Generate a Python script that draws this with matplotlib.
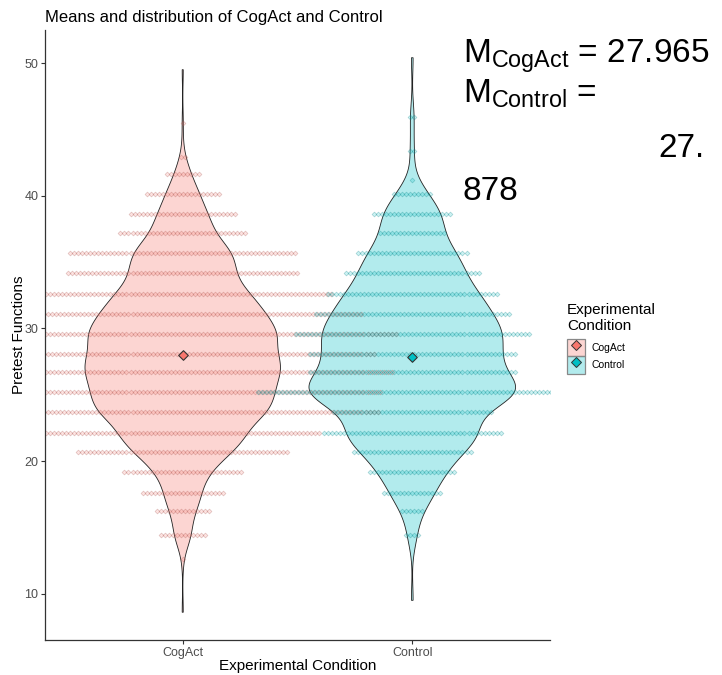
import numpy as np
import matplotlib
matplotlib.use("Agg")
import matplotlib.pyplot as plt
from matplotlib.patches import Patch
from matplotlib.lines import Line2D
from matplotlib.legend_handler import HandlerTuple

plt.rcParams["font.family"] = ["Liberation Sans", "DejaVu Sans"]
plt.rcParams["mathtext.fontset"] = "custom"
plt.rcParams["mathtext.rm"] = "Liberation Sans"
plt.rcParams["mathtext.it"] = "Liberation Sans:italic"

groups = ["CogAct", "Control"]
group_means = [27.965, 27.878]
colors = ["#F8766D", "#00BFC4"]

# dot rows: score level and how many participants are stacked on it
cogact_levels = [45.5, 42.9, 41.6, 40.1, 38.6, 37.2, 35.7, 34.2, 32.6, 31.1, 29.6,
                 28.1, 26.7, 25.2, 23.7, 22.1, 20.7, 19.2, 17.6, 16.2, 14.4, 12.6]
cogact_counts = [1, 2, 9, 19, 27, 32, 57, 58, 75, 90, 107,
                 96, 105, 99, 98, 69, 53, 30, 21, 14, 12, 1]
control_levels = [45.9, 43.4, 41.2, 40.1, 38.6, 37.2, 35.7, 34.2, 32.6, 31.1, 29.6,
                  28.1, 26.7, 25.2, 23.7, 22.1, 20.7, 19.2, 17.6, 16.2, 14.4]
control_counts = [2, 2, 1, 10, 20, 17, 28, 34, 43, 49, 59,
                  52, 52, 78, 40, 45, 30, 22, 15, 6, 4]
# lowest and highest single scores per group
cogact_extremes = [8.6, 49.5]
control_extremes = [9.5, 50.4]

levels = [cogact_levels, control_levels]
counts = [cogact_counts, control_counts]
extremes = [cogact_extremes, control_extremes]


def kde_profile(samples, adjust=0.8, n_grid=512):
    """Gaussian KDE (bw.nrd0 * adjust) evaluated over the sample range."""
    samples = np.asarray(samples, dtype=float)
    sd = samples.std(ddof=1)
    q75, q25 = np.percentile(samples, [75, 25])
    bw = adjust * 0.9 * min(sd, (q75 - q25) / 1.34) * len(samples) ** -0.2
    grid = np.linspace(samples.min(), samples.max(), n_grid)
    z = (grid[:, None] - samples[None, :]) / bw
    dens = np.exp(-0.5 * z ** 2).sum(axis=1) / (len(samples) * bw * np.sqrt(2 * np.pi))
    return grid, dens


def darker(color, f=0.7, alpha=1.0):
    r, g, b = matplotlib.colors.to_rgb(color)
    return (r * f, g * f, b * f, alpha)


fig = plt.figure(figsize=(7.22, 6.75), dpi=100)
ax = fig.add_axes([45 / 722, 35 / 675, 505 / 722, 610 / 675])

samples = [np.concatenate([np.repeat(lv, ct), ex]) for lv, ct, ex in zip(levels, counts, extremes)]
profiles = [kde_profile(s) for s in samples]
max_dens = max(d.max() for _, d in profiles)

# violins, scaled by area so the widest one spans 0.9
for i, ((grid, dens), color) in enumerate(zip(profiles, colors)):
    pos = i + 1
    half = 0.45 * dens / max_dens
    xs = np.concatenate([pos - half, (pos + half)[::-1]])
    ys = np.concatenate([grid, grid[::-1]])
    ax.fill(xs, ys, facecolor=matplotlib.colors.to_rgba(color, 0.3),
            edgecolor="#222222", linewidth=0.6, zorder=1)

# centred dot stacks
dot_step = 0.0175
for i, (lv, ct, color) in enumerate(zip(levels, counts, colors)):
    pos = i + 1
    dx, dy = [], []
    for y, n in zip(lv, ct):
        dx.extend(pos + (np.arange(n) - (n - 1) / 2) * dot_step)
        dy.extend([y] * n)
    ax.scatter(dx, dy, marker="D", s=6,
               facecolor=matplotlib.colors.to_rgba(color, 0.2),
               edgecolor=darker(color, 0.65, 0.32),
               linewidth=0.5, zorder=2)

# group means
for i, (m, color) in enumerate(zip(group_means, colors)):
    ax.scatter([i + 1], [m], marker="D", s=24, facecolor=color,
               edgecolor="#333333", linewidth=0.8, zorder=4)

all_vals = np.concatenate(samples)
span = all_vals.max() - all_vals.min()
ax.set_ylim(all_vals.min() - 0.05 * span, all_vals.max() + 0.05 * span)
ax.set_xlim(0.4, 2.6)
ax.set_xticks([1, 2])
ax.set_xticklabels(groups)
ax.set_yticks([10, 20, 30, 40, 50])

for side in ["top", "right"]:
    ax.spines[side].set_visible(False)
for side in ["left", "bottom"]:
    ax.spines[side].set_color("#333333")
    ax.spines[side].set_linewidth(0.9)
ax.tick_params(length=2.7, width=0.8, color="#333333", labelcolor="#4D4D4D",
               labelsize=9, pad=2)

ax.set_title("Means and distribution of CogAct and Control", loc="left",
             fontsize=12, pad=6)
ax.set_xlabel("Experimental Condition", fontsize=11, labelpad=0)
ax.set_ylabel("Pretest Functions", fontsize=11, labelpad=-1)

handles = [
    (Patch(facecolor=matplotlib.colors.to_rgba(c, 0.3), edgecolor="#888888", linewidth=0.9),
     Line2D([], [], marker="D", linestyle="", markersize=5.5, markerfacecolor=c,
            markeredgecolor="#333333", markeredgewidth=0.7))
    for c in colors
]
leg = fig.legend(handles, groups, title="Experimental\nCondition", title_fontsize=11,
                 fontsize=7.5, loc="upper left", bbox_to_anchor=(567 / 722, 1 - 303 / 675),
                 frameon=False, handler_map={tuple: HandlerTuple(ndivide=1)},
                 handlelength=1.7, handleheight=2.2, labelspacing=0.0,
                 handletextpad=0.7, borderpad=0, borderaxespad=0, alignment="left")
leg._legend_box.sep = 4

# mean annotation
fs = 24
fig.text(463 / 722, 1 - 63 / 675, r"M$_{\mathrm{CogAct}}$ = 27.965", fontsize=fs,
         va="baseline", ha="left")
fig.text(463 / 722, 1 - 103 / 675, r"M$_{\mathrm{Control}}$ =", fontsize=fs,
         va="baseline", ha="left")
fig.text(704 / 722, 1 - 157 / 675, "27.", fontsize=fs, va="baseline", ha="right")
fig.text(463 / 722, 1 - 200 / 675, "878", fontsize=fs, va="baseline", ha="left")

fig.savefig("out.png", dpi=100)
